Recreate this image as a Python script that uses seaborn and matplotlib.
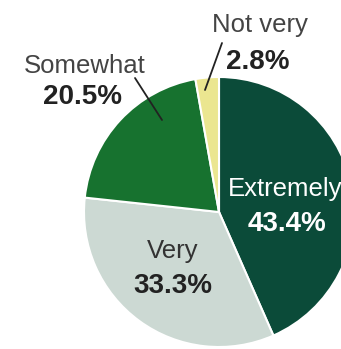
import matplotlib
matplotlib.use("Agg")
import matplotlib.pyplot as plt
import seaborn as sns

# Share of respondents by rating
categories = ["Extremely", "Very", "Somewhat", "Not very"]
shares = [43.4, 33.3, 20.5, 2.8]
colors = ["#0b4b39", "#ccd9d3", "#17722f", "#ebe690"]

sns.set_theme(style="white")
plt.rcParams["font.family"] = ["Liberation Sans Narrow", "Liberation Sans", "DejaVu Sans"]

W, H = 341, 349
fig = plt.figure(figsize=(W / 100, H / 100), dpi=100)
fig.patch.set_facecolor("white")

# pie centre and radius in pixels
cx, cy, r = 219, 212, 135
ax = fig.add_axes([(cx - r) / W, (H - cy - r) / H, 2 * r / W, 2 * r / H])

wedges, _ = ax.pie(shares, colors=colors, startangle=90, counterclock=False,
                   wedgeprops=dict(edgecolor="white", linewidth=1.5))
ax.set_xlim(-1, 1)
ax.set_ylim(-1, 1)
ax.set_aspect("auto")
ax.axis("off")


def px(x, y):
    return (x - cx) / r, (cy - y) / r


label_pos = {
    "Extremely": ((285, 189), (287, 224), "white", "white"),
    "Very": ((173, 251), (173, 286), "#333333", "#222222"),
    "Somewhat": ((85, 66), (83, 97), "#444444", "#222222"),
    "Not very": ((260, 25), (258, 62), "#444444", "#222222"),
}
for cat, val in zip(categories, shares):
    (p1, p2, c1, c2) = label_pos[cat]
    ax.text(*px(*p1), cat, ha="center", va="center", fontsize=18.5,
            color=c1, clip_on=False)
    ax.text(*px(*p2), f"{val}%", ha="center", va="center", fontsize=20,
            fontweight="bold", color=c2, clip_on=False)

# leader lines for the small outer labels
for (x0, y0), (x1, y1) in [((135, 78), (162, 120)), ((222, 43), (205, 90))]:
    a, b = px(x0, y0)
    c, d = px(x1, y1)
    ax.plot([a, c], [b, d], color="#222222", lw=1.3, clip_on=False)

fig.savefig("out.png", dpi=100, facecolor="white")
